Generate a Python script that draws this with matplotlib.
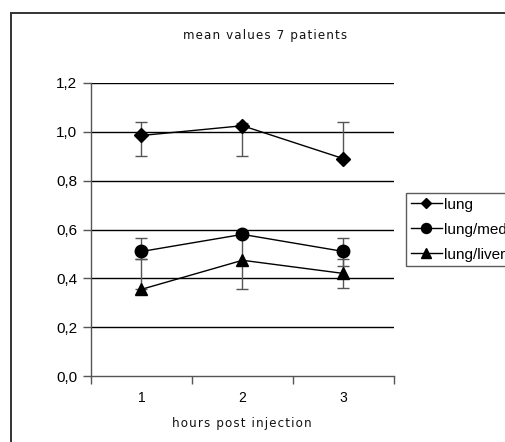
import matplotlib
matplotlib.use("Agg")
import matplotlib.pyplot as plt
from matplotlib.lines import Line2D
from matplotlib.ticker import FixedLocator, FuncFormatter, NullFormatter

# ---- data ----
hours = [1, 2, 3]
hour_labels = ["1", "2", "3"]
lung = [0.985, 1.025, 0.89]
lung_err_low = [0.085, 0.125, 0.0]
lung_err_high = [0.055, 0.01, 0.15]
lung_med = [0.51, 0.58, 0.51]
med_err_low = [0.03, 0.01, 0.06]
med_err_high = [0.057, 0.01, 0.057]
lung_liver = [0.355, 0.474, 0.42]
liver_err_low = [0.0, 0.116, 0.06]
liver_err_high = [0.125, 0.10, 0.06]
series_names = ["lung", "lung/med", "lung/liver"]
y_ticks = [0.0, 0.2, 0.4, 0.6, 0.8, 1.0, 1.2]
title_text = "mean values 7 patients"
xlabel_text = "hours post injection"

W, H = 506, 442
fig = plt.figure(figsize=(W / 100, H / 100), dpi=100)
fig.patch.set_facecolor("white")
fig.patch.set_edgecolor("white")
fig.patch.set_linewidth(0)

# outer chart frame (cropped on right/bottom): only left and top edges visible
fx, fy = 11.5 / W, 1 - 12.5 / H
fig.add_artist(Line2D([fx, fx], [0.0, fy], transform=fig.transFigure,
                      color="#333333", linewidth=1.4))
fig.add_artist(Line2D([fx, 1.0], [fy, fy], transform=fig.transFigure,
                      color="#333333", linewidth=1.4))

ax = fig.add_axes([91 / W, (H - 376) / H, 303 / W, 293 / H])
ax.set_xlim(0.5, 3.5)
ax.set_ylim(0, 1.2)

for v in y_ticks[1:]:
    ax.axhline(v, color="black", linewidth=1.0, zorder=1)

for s in ["top", "right"]:
    ax.spines[s].set_visible(False)
for s in ["left", "bottom"]:
    ax.spines[s].set_color("#555555")
    ax.spines[s].set_linewidth(1.0)

ecol = "#555555"
specs = [
    (lung, lung_err_low, lung_err_high, "D", 7),
    (lung_med, med_err_low, med_err_high, "o", 9),
    (lung_liver, liver_err_low, liver_err_high, "^", 9),
]
handles = []
for (vals, lo, hi, mk, ms), name in zip(specs, series_names):
    ax.errorbar(hours, vals, yerr=[lo, hi], fmt="none", ecolor=ecol,
                elinewidth=1.0, capsize=4, capthick=1.0, zorder=2)
    h, = ax.plot(hours, vals, color="black", linewidth=1.0, marker=mk,
                 markersize=ms, markerfacecolor="black",
                 markeredgecolor="black", zorder=3, label=name)
    handles.append(h)

ax.yaxis.set_major_locator(FixedLocator(y_ticks))
ax.yaxis.set_major_formatter(FuncFormatter(lambda v, p: f"{v:.1f}".replace(".", ",")))
ax.tick_params(axis="y", direction="out", length=6, width=1, color="#555555",
               pad=4, labelsize=11)

ax.xaxis.set_major_locator(FixedLocator([0.5, 1.5, 2.5, 3.5]))
ax.xaxis.set_major_formatter(NullFormatter())
ax.xaxis.set_minor_locator(FixedLocator(hours))
ax.set_xticks(hours, hour_labels, minor=True)
ax.tick_params(axis="x", which="major", direction="out", length=6, width=1,
               color="#555555")
ax.tick_params(axis="x", which="minor", length=0, pad=11, labelsize=10)

for lab in ax.get_yticklabels() + ax.get_xticklabels(minor=True):
    lab.set_fontfamily("Liberation Sans")


def spaced(s):
    return "\u200a".join(s)


fig.text(265 / W, 1 - 36 / H, spaced(title_text), ha="center",
         va="center", fontsize=8.6, family="DejaVu Sans", color="#111111")
fig.text(242 / W, 1 - 423 / H, spaced(xlabel_text), ha="center",
         va="center", fontsize=8.6, family="DejaVu Sans", color="#111111")

leg = fig.legend(handles=handles, labels=series_names,
                 loc="upper left", bbox_to_anchor=(406.5 / W, 1 - 193 / H),
                 frameon=True, fancybox=False, edgecolor="#333333",
                 prop={"family": "Liberation Sans", "size": 11},
                 handlelength=2.0, handletextpad=0.15, borderpad=0.3,
                 labelspacing=0.72, borderaxespad=0, markerscale=0.8)
leg.get_frame().set_linewidth(1.0)

fig.savefig("out.png", dpi=100, facecolor="white", edgecolor="white")
